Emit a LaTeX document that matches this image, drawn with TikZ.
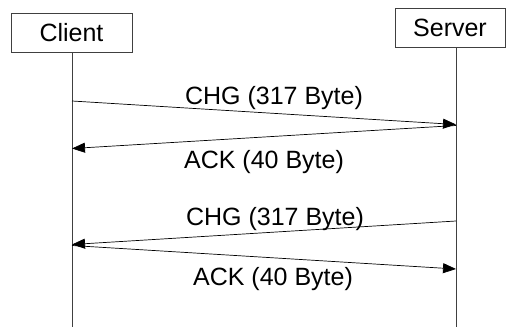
\documentclass[tikz,border=0pt]{standalone}
\usepackage{fontspec}
\setmainfont{Liberation Sans}
\usetikzlibrary{arrows.meta}

\tikzset{
  entity/.style={draw=black!75, line width=0.8pt, inner sep=0pt, font=\fontsize{25}{30}\selectfont},
  life/.style={draw=black!75, line width=0.8pt},
  msg/.style={-{Triangle[length=13pt,width=10pt]}, line width=0.7pt},
  lbl/.style={anchor=base, inner sep=0pt, font=\fontsize{25}{30}\selectfont},
}

\begin{document}
\begin{tikzpicture}[x=1pt,y=-1pt]
    \useasboundingbox (0,0) rectangle (506,327);
    \node [entity, minimum width=121pt, minimum height=39pt] (client) at (71.5,32.5) {Client};
    \node [entity, minimum width=110pt, minimum height=39pt] (server) at (450,27.5) {Server};
    % lifelines
    \coordinate (cbot) at (72,327);
    \coordinate (sbot) at (456,327);
    \draw [life] (client.south -| cbot) -- (cbot);
    \draw [life] (server.south -| sbot) -- (sbot);
    % message ends
    \coordinate (c1) at (72,101);   \coordinate (s1) at (456,124.5);
    \coordinate (s2) at (456,125.5); \coordinate (c2) at (72,148.5);
    \coordinate (s3) at (456,221);  \coordinate (c3) at (72,244.5);
    \coordinate (c4) at (72,245.5); \coordinate (s4) at (456,269);
    \foreach \from/\to in {c1/s1,s2/c2,s3/c3,c4/s4}
    {
    \draw [msg] (\from) -- (\to);
    }
    \node [lbl] (chg1) at (274,104) {CHG (317 Byte)};
    \node [lbl] (ack1) at (264,168) {ACK (40 Byte)};
    \node [lbl] (chg2) at (275,225) {CHG (317 Byte)};
    \node [lbl] (ack2) at (273,285) {ACK (40 Byte)};
\end{tikzpicture}
\end{document}
